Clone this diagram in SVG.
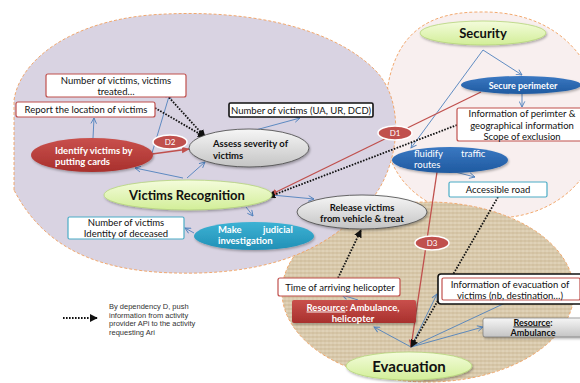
<svg xmlns="http://www.w3.org/2000/svg" width="580" height="383" viewBox="0 0 580 383">
<style>
.t{font-family:Lato,"Open Sans","Liberation Sans",sans-serif;fill:#111;}
.b{font-weight:bold;}
.w{fill:#fff;}
.m{text-anchor:middle;}
.box{fill:#fff;stroke-width:1.2;}
.rb{stroke:#c0504d;}
.cb{stroke:#4bacc6;}
.kb{stroke:#111;stroke-width:1.6;}
.bl{stroke:#4f81bd;stroke-width:0.9;fill:none;marker-end:url(#ab);}
.rl{stroke:#c0504d;stroke-width:1.3;fill:none;marker-end:url(#ar);}
.dl{stroke:#111;stroke-width:1.8;stroke-dasharray:1.6 1.4;fill:none;marker-end:url(#ak);}
.zone{stroke:#f0a060;stroke-width:0.9;stroke-dasharray:3 2;}
.dd{fill:#c0504d;stroke:#fff;stroke-width:1.5;}
</style>
<defs>
<marker id="ab" viewBox="0 0 10 10" refX="9" refY="5" markerWidth="7" markerHeight="7" markerUnits="userSpaceOnUse" orient="auto"><path d="M1,1 L9,5 L1,9" fill="none" stroke="#4f81bd" stroke-width="1.3"/></marker>
<marker id="ar" viewBox="0 0 10 10" refX="9" refY="5" markerWidth="8" markerHeight="8" markerUnits="userSpaceOnUse" orient="auto"><path d="M0,1 L10,5 L0,9 Z" fill="#c0504d"/></marker>
<marker id="ak" viewBox="0 0 10 10" refX="9" refY="5" markerWidth="8" markerHeight="8" markerUnits="userSpaceOnUse" orient="auto"><path d="M0,0 L10,5 L0,10 Z" fill="#111"/></marker>
<linearGradient id="gG" x1="0" y1="0" x2="0" y2="1"><stop offset="0" stop-color="#f4fcdc"/><stop offset="1" stop-color="#d2ee98"/></linearGradient>
<linearGradient id="gR" x1="0" y1="0" x2="0" y2="1"><stop offset="0" stop-color="#c9504c"/><stop offset="1" stop-color="#a8302d"/></linearGradient>
<linearGradient id="gB" x1="0" y1="0" x2="0" y2="1"><stop offset="0" stop-color="#3a78c2"/><stop offset="1" stop-color="#1f5aa0"/></linearGradient>
<linearGradient id="gT" x1="0" y1="0" x2="0" y2="1"><stop offset="0" stop-color="#3cb2d4"/><stop offset="1" stop-color="#2290b6"/></linearGradient>
<linearGradient id="gK" x1="0" y1="0" x2="0" y2="1"><stop offset="0" stop-color="#f6f6f6"/><stop offset="1" stop-color="#c4c4c4"/></linearGradient>
<pattern id="burlap" width="4" height="4" patternUnits="userSpaceOnUse"><rect width="4" height="4" fill="#dccdb0"/><path d="M0,1 H4 M1,0 V4" stroke="#cbb994" stroke-width="0.7"/><path d="M0,3 H4" stroke="#e8dcc4" stroke-width="0.6"/></pattern>
<filter id="sh" x="-10%" y="-20%" width="130%" height="160%"><feDropShadow dx="1" dy="1.5" stdDeviation="1.2" flood-color="#000" flood-opacity="0.3"/></filter>
</defs>
<rect width="580" height="383" fill="#fff"/>
<g id="zones">
<path class="zone" d="M385,130 C383,40 420,12 480,12 C540,11 585,40 600,100 C610,170 560,218 495,218 C440,219 387,190 385,130 Z" fill="#f8efef"/>
<ellipse class="zone" cx="428" cy="292" rx="146" ry="90" fill="url(#burlap)"/>
<path class="zone" d="M14,190 L14,100 C20,60 70,22 150,15 C240,8 330,25 375,70 C405,100 400,160 375,195 C340,240 290,270 200,273 C120,275 50,260 14,190 Z" fill="#d9d3e2"/>
</g>
<g id="connectors">
<path class="bl" d="M483,50 L522,75"/>
<path class="bl" d="M483,50 L411,148"/>
<path class="bl" d="M522,94 L522,107"/>
<path class="bl" d="M447,170 L475,177"/>
<path class="bl" d="M93,138 L94,118"/>
<path class="bl" d="M152,153 L170,93"/>
<path class="bl" d="M183,178 L135,168"/>
<path class="bl" d="M187,178 L205,162"/>
<path class="bl" d="M252,131 L300,118"/>
<path class="bl" d="M272,195 L314,199"/>
<path class="bl" d="M246,207 L253,216"/>
<path class="bl" d="M194,233 L185,228"/>
<path class="bl" d="M411,347 L374,327"/>
<path class="bl" d="M411,347 L437,294"/>
<path class="bl" d="M411,347 L518,297"/>
<path class="bl" d="M411,347 L483,327"/>
<path class="bl" d="M358,300 L342,295"/>
<path class="rl" d="M481,92 L270,195"/>
<path class="rl" d="M152,154 L189,149"/>
<path class="rl" d="M437,172 L411,347"/>
<path class="dl" d="M165,93 L205,137"/>
<path class="dl" d="M155,108 L205,137"/>
<path class="dl" d="M457,125 L268,197"/>
<path class="dl" d="M498,197 L411,347"/>
<path class="dl" d="M338,278 L361,230"/>
</g>
<g id="security"><ellipse cx="483" cy="33" rx="63" ry="12" fill="url(#gG)" stroke="#b5d67a" stroke-width="0.8" filter="url(#sh)"/><text class="t b m" x="483" y="37.5" font-size="13">Security</text></g>
<g id="secure-perimeter"><ellipse cx="521" cy="85" rx="60" ry="9" fill="url(#gB)" filter="url(#sh)"/><text class="t b w m" x="523" y="88.5" font-size="9">Secure perimeter</text></g>
<g id="info-perimeter"><rect class="box rb" x="457" y="108" width="130" height="33" rx="2"/><text class="t m" x="522" y="116.5" font-size="9.5">Information of perimter &amp;</text><text class="t m" x="522" y="128.5" font-size="9.5">geographical information</text><text class="t m" x="522" y="140" font-size="9.5">Scope of exclusion</text></g>
<g id="d1"><ellipse class="dd" cx="395" cy="133" rx="17" ry="7"/><text class="t w m" x="395" y="136" font-size="8">D1</text></g>
<g id="fluidify"><ellipse cx="450" cy="160" rx="58" ry="13" fill="url(#gB)" filter="url(#sh)"/><text class="t w" x="414" y="156.5" font-size="9.5">fluidify</text><text class="t w" x="461" y="156.5" font-size="9.5">traffic</text><text class="t w" x="414" y="168" font-size="9.5">routes</text></g>
<g id="accessible-road"><rect class="box cb" x="449" y="182" width="98" height="15" rx="1.5"/><text class="t m" x="498" y="193" font-size="9.5">Accessible road</text></g>
<g id="victims-recognition"><ellipse cx="188" cy="195" rx="84" ry="15" fill="url(#gG)" stroke="#b5d67a" stroke-width="0.8" filter="url(#sh)"/><text class="t b m" x="187" y="199.5" font-size="13">Victims Recognition</text></g>
<g id="identify"><ellipse cx="92" cy="155" rx="61" ry="17" fill="url(#gR)" filter="url(#sh)"/><text class="t b w" x="55" y="153.5" font-size="9.5">Identify victims by</text><text class="t b w" x="55" y="165" font-size="9.5">putting  cards</text></g>
<g id="d2"><ellipse class="dd" cx="170" cy="142" rx="17" ry="7"/><text class="t w m" x="170" y="145" font-size="8">D2</text></g>
<g id="assess"><ellipse cx="249" cy="148" rx="60" ry="19" fill="url(#gK)" stroke="#444" stroke-width="0.8" filter="url(#sh)"/><text class="t b" x="213" y="146.5" font-size="9.5">Assess  severity  of</text><text class="t b" x="213" y="158.5" font-size="9.5">victims</text></g>
<g id="victims-treated"><rect class="box rb" x="46" y="74" width="140" height="23" rx="2"/><text class="t m" x="116" y="84" font-size="9.5">Number of victims, victims</text><text class="t m" x="116" y="95" font-size="9.5">treated…</text></g>
<g id="report-location"><rect class="box rb" x="16" y="102" width="139" height="15" rx="2"/><text class="t m" x="86" y="112.5" font-size="9.5">Report the location of victims</text></g>
<g id="number-ua"><rect class="box kb" x="229" y="103" width="144" height="14" rx="1.5"/><text class="t m" x="301" y="113.5" font-size="9.5">Number of victims  (UA, UR, DCD)</text></g>
<g id="identity-deceased"><rect class="box cb" x="68" y="217" width="116" height="22" rx="1.5"/><text class="t m" x="126" y="225.5" font-size="9.5">Number of victims</text><text class="t m" x="126" y="237" font-size="9.5">Identity of deceased</text></g>
<g id="judicial"><ellipse cx="254" cy="236" rx="60" ry="14" fill="url(#gT)" filter="url(#sh)"/><text class="t b w" x="218" y="232.5" font-size="9.5">Make</text><text class="t b w" x="263" y="232.5" font-size="9.5">judicial</text><text class="t b w" x="218" y="244" font-size="9.5">investigation</text></g>
<g id="release"><ellipse cx="362" cy="212" rx="65" ry="17" fill="url(#gK)" stroke="#444" stroke-width="0.8" filter="url(#sh)"/><text class="t b m" x="362" y="210.5" font-size="9.5">Release victims</text><text class="t b m" x="362" y="222" font-size="9.5">from vehicle &amp; treat</text></g>
<g id="d3"><ellipse class="dd" cx="432" cy="243" rx="17" ry="7"/><text class="t w m" x="432" y="246" font-size="8">D3</text></g>
<g id="time-helicopter"><rect class="box rb" x="278" y="278" width="122" height="18" rx="2"/><text class="t m" x="340" y="290.5" font-size="9.5">Time of arriving helicopter</text></g>
<g id="resource-heli"><rect x="292" y="300" width="124" height="23" rx="2" fill="url(#gR)" filter="url(#sh)"/><text class="t b w m" x="353" y="310.5" font-size="9.5"><tspan text-decoration="underline">Resource</tspan>: Ambulance,</text><text class="t b w m" x="353" y="321.5" font-size="9.5">helicopter</text></g>
<g id="info-evacuation"><rect class="box kb" x="438" y="274" width="146" height="30" rx="3" stroke-width="2"/><rect class="box rb" x="442" y="278" width="138" height="22" rx="1.5"/><text class="t m" x="510" y="287.5" font-size="9.5">Information of evacuation of</text><text class="t m" x="510" y="298.5" font-size="9.5">victims (nb, destination…)</text></g>
<g id="resource-amb"><rect x="483" y="318" width="100" height="19" rx="2" fill="url(#gK)" stroke="#666" stroke-width="0.6" filter="url(#sh)"/><text class="t b m" x="533" y="325.5" font-size="9"><tspan text-decoration="underline">Resource</tspan>:</text><text class="t b m" x="533" y="336" font-size="9">Ambulance</text></g>
<g id="evacuation"><ellipse cx="409" cy="366" rx="63" ry="14" fill="url(#gG)" stroke="#b5d67a" stroke-width="0.8" filter="url(#sh)"/><text class="t b m" x="409" y="371.5" font-size="15">Evacuation</text></g>
<g id="legend"><path class="dl" d="M63,318 L97,318"/><text font-family="'Liberation Sans',Arial,sans-serif" font-size="7.5" fill="#333"><tspan x="109" y="309">By dependency D, push</tspan><tspan x="109" y="317.5">information from activity</tspan><tspan x="109" y="326">provider APi to the  activity</tspan><tspan x="109" y="334.5">requesting Ari</tspan></text></g>
</svg>
